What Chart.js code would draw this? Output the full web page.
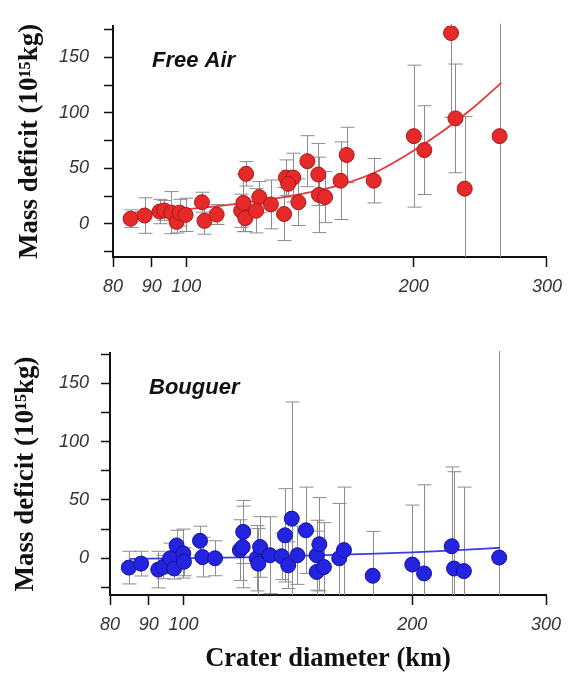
<!DOCTYPE html>
<html>
<head>
<meta charset="utf-8">
<script src="https://cdn.jsdelivr.net/npm/chart.js@4.4.0/dist/chart.umd.min.js"></script>
<style>
  body { margin: 0; background: #fff; }
  #wrap { position: relative; width: 571px; height: 675px; }
  #topBox { position: absolute; left: 0; top: 0; }
  #botBox { position: absolute; left: 0; top: 310px; }
</style>
</head>
<body>
<div id="wrap">
  <div id="topBox"><canvas id="FreeAir" width="571" height="310"></canvas></div>
  <div id="botBox"><canvas id="Bouguer" width="571" height="365"></canvas></div>
</div>
<script>
// axis ticks (km and 10^15 kg)
var xTicks = [80, 90, 100, 200, 300];
var yTicks = [-25, 0, 25, 50, 75, 100, 125, 150, 175];
var yLabelled = [0, 50, 100, 150];

// free-air mass deficit per crater, with half-width of the error bar
var faDiameter = [84.4, 88.1, 92.2, 93.5, 95.6, 97.1, 98.0, 99.8, 104.9, 105.7, 109.7, 118.2,
                  120.0, 119.0, 119.7, 124.9, 123.7, 129.4, 134.7, 135.5, 138.5, 136.4, 140.7, 144.6,
                  149.5, 149.8, 152.6, 160.0, 163.0, 177.0, 200.0, 206.5, 224.0, 227.0, 233.5, 259.7];
var faDeficit = [4.5, 7.4, 11, 12, 10, 1.7, 10, 8, 19.4, 2.6, 8.3, 11.7,
                 45, 18.8, 5, 24, 11.7, 17.4, 8.8, 41.6, 41.6, 36, 19.4, 56.4,
                 44.4, 26, 24, 38.8, 62, 38.8, 79, 66.4, 172, 95, 31.6, 79];
var faError = [8, 16, 11, 9, 19, 10, 12, 15, 9, 12, 9, 15,
               11, 26, 12, 14, 20, 22, 24, 16, 22, 12, 21, 23,
               28, 34, 23, 35, 25, 20, 64, 40, 76, 49, 65, 300];
// fitted curve
var faFitDiameter = [85, 100, 120, 140, 160, 180, 200, 220, 240, 261];
var faFitDeficit = [10, 13, 19, 26, 35, 48, 66, 85, 105, 127];

// Bouguer mass deficit per crater
var bgDiameter = [84.7, 87.9, 92.6, 94.0, 96.0, 97.2, 97.9, 99.9, 100.1, 105.1, 105.9, 110.0,
                  118.6, 119.6, 119.8, 124.8, 126.1, 125.4, 129.9, 134.6, 136.0, 137.3, 138.8, 141.2,
                  144.9, 149.7, 150.9, 149.7, 153.0, 160.3, 162.6, 177.4, 200.0, 207.3, 225.4, 227.0,
                  233.9, 260.3];
var bgDeficit = [-8, -4.6, -9.7, -7.5, 0, -8.8, 11, 4, -3, 15, 1, 0,
                 7, 9.7, 22.6, 0, 9.7, -4.6, 2.6, 1.7, 19.7, -6, 34, 2.6,
                 24, 2.6, 12, -11.7, -7.5, 0, 7, -15, -5.4, -13, 10.3, -8.8,
                 -11, 0.6];
var bgError = [14, 10.6, 15.7, 10, 13, 9, 13, 21, 12, 12.5, 17, 15,
               26, 35, 27, 28, 26, 30, 33, 20, 40, 20, 100, 25,
               37, 30, 40, 35, 38, 47, 54, 38, 51, 76, 68, 83,
               72, 300];
var bgFitDiameter = [85, 100, 120, 140, 170, 200, 230, 261];
var bgFitDeficit = [-0.5, 0, 0.8, 2, 3.5, 5, 7, 9];

function points(xs, ys) {
    var out = [];
    for (var i = 0; i < xs.length; i++) out.push({x: xs[i], y: ys[i]});
    return out;
}

// grey error bars with caps, clipped to the plot
var errorBars = {
    id: 'errorBars',
    beforeDatasetsDraw: function(chart, args, opts) {
        var ctx = chart.ctx, xs = chart.scales.x, ys = chart.scales.y, area = chart.chartArea;
        ctx.save();
        ctx.beginPath();
        ctx.rect(area.left, area.top - 2, area.right - area.left, area.bottom - area.top + 2);
        ctx.clip();
        ctx.strokeStyle = '#8c8c8c';
        ctx.lineWidth = 1;
        for (var i = 0; i < opts.x.length; i++) {
            var px = Math.round(xs.getPixelForValue(opts.x[i])) + 0.5;
            var lo = ys.getPixelForValue(opts.y[i] - opts.err[i]);
            var hi = ys.getPixelForValue(opts.y[i] + opts.err[i]);
            ctx.beginPath();
            ctx.moveTo(px, lo); ctx.lineTo(px, hi);
            ctx.moveTo(px - 7, lo); ctx.lineTo(px + 7, lo);
            ctx.moveTo(px - 7, hi); ctx.lineTo(px + 7, hi);
            ctx.stroke();
        }
        ctx.restore();
    }
};

var panelLabel = {
    id: 'panelLabel',
    afterDraw: function(chart, args, opts) {
        var ctx = chart.ctx, area = chart.chartArea;
        ctx.save();
        ctx.font = 'italic bold 22px "Liberation Sans", Arial, sans-serif';
        ctx.fillStyle = '#111';
        ctx.textBaseline = 'alphabetic';
        ctx.fillText(opts.text, area.left + opts.dx, area.top + opts.dy);
        ctx.restore();
    }
};

function buildPanel(id, p) {
    var ctx = document.getElementById(id).getContext('2d');
    return new Chart(ctx, {
        type: 'scatter',
        data: {
            datasets: [{
                type: 'scatter',
                data: points(p.x, p.y),
                backgroundColor: p.fill,
                borderColor: p.edge,
                borderWidth: 1,
                pointRadius: 7.5,
                order: 1
            }, {
                type: 'line',
                data: points(p.fitX, p.fitY),
                borderColor: p.line,
                borderWidth: 1.8,
                pointRadius: 0,
                cubicInterpolationMode: 'monotone',
                fill: false,
                order: 2
            }]
        },
        options: {
            responsive: false,
            animation: false,
            layout: { padding: { top: p.top, right: p.right, left: 0, bottom: 0 } },
            plugins: {
                legend: { display: false },
                tooltip: { enabled: false },
                errorBars: { x: p.x, y: p.y, err: p.err },
                panelLabel: { text: p.label, dx: 39, dy: 41 }
            },
            scales: {
                x: {
                    type: 'logarithmic',
                    min: 80, max: 300,
                    afterBuildTicks: function(s) { s.ticks = xTicks.map(function(v) { return {value: v}; }); },
                    afterFit: function(s) { s.height = p.xHeight; },
                    border: { display: true, color: '#111', width: 2 },
                    grid: { drawOnChartArea: false, drawTicks: true, tickLength: 10, tickColor: '#111', tickWidth: 1.5 },
                    ticks: {
                        autoSkip: false, maxRotation: 0, padding: 9, color: '#333',
                        font: { family: '"Liberation Sans", Arial, sans-serif', style: 'italic', size: 18 },
                        callback: function(v) { return String(v); }
                    },
                    title: {
                        display: p.xTitle !== '',
                        text: p.xTitle,
                        color: '#111',
                        padding: { top: 0, bottom: 0 },
                        font: { family: '"Liberation Serif", "Times New Roman", serif', weight: 'bold', size: 26.5 }
                    }
                },
                y: {
                    min: p.yMin, max: p.yMax,
                    afterBuildTicks: function(s) { s.ticks = yTicks.map(function(v) { return {value: v}; }); },
                    afterFit: function(s) { s.width = p.yWidth; },
                    border: { display: true, color: '#111', width: 2 },
                    grid: { drawOnChartArea: false, drawTicks: true, tickLength: 9, tickColor: '#111', tickWidth: 1.5 },
                    ticks: {
                        padding: p.yPad, color: '#333',
                        font: { family: '"Liberation Sans", Arial, sans-serif', style: 'italic', size: 18 },
                        callback: function(v) { return yLabelled.indexOf(v) >= 0 ? String(v) : ''; }
                    },
                    title: {
                        display: true,
                        text: 'Mass deficit (10¹⁵kg)',
                        color: '#111',
                        padding: { top: p.yTitlePad, bottom: 0 },
                        font: { family: '"Liberation Serif", "Times New Roman", serif', weight: 'bold', size: 27 }
                    }
                }
            }
        },
        plugins: [errorBars, panelLabel]
    });
}

buildPanel('FreeAir', {
    x: faDiameter, y: faDeficit, err: faError,
    fitX: faFitDiameter, fitY: faFitDeficit,
    fill: '#e62a2a', edge: '#a81818', line: '#e03a3a',
    label: 'Free Air',
    top: 13, right: 22, xHeight: 53, yWidth: 113, yPad: 15, yTitlePad: 14,
    yMin: -30, yMax: 178.5, xTitle: ''
});

buildPanel('Bouguer', {
    x: bgDiameter, y: bgDeficit, err: bgError,
    fitX: bgFitDiameter, fitY: bgFitDeficit,
    fill: '#2424e0', edge: '#12129a', line: '#3c3ce6',
    label: 'Bouguer',
    top: 43, right: 25, xHeight: 80, yWidth: 110, yPad: 12, yTitlePad: 10,
    yMin: -31.5, yMax: 176, xTitle: 'Crater diameter (km)'
});
</script>
</body>
</html>
